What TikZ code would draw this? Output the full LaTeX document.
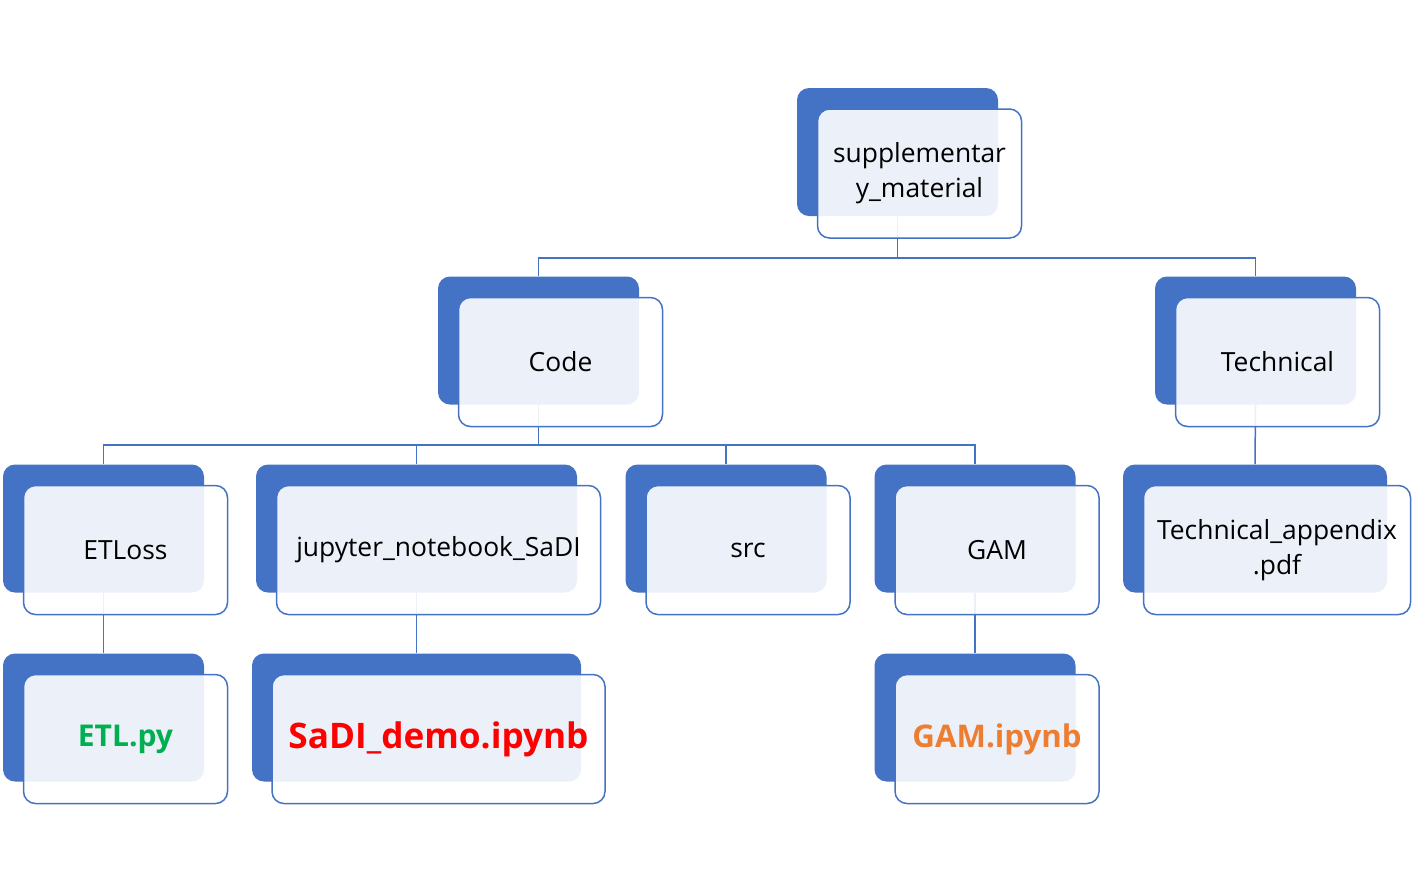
\documentclass[tikz,border=0pt]{standalone}
\usepackage{fontspec}
\setmainfont{Open Sans}
\usepackage{xcolor}
\usetikzlibrary{calc, positioning}

\definecolor{xanh}{HTML}{4472C4}
\definecolor{xanhla}{HTML}{00B050}
\definecolor{cam}{HTML}{ED7D31}

\begin{document}
\begin{tikzpicture}[x=0.5pt, y=-0.5pt,
    nen/.style={fill=xanh, rounded corners=6pt, inner sep=0pt,
        minimum width=100.5pt, minimum height=64pt},
    mat/.style={draw=xanh, line width=0.75pt, fill=white, fill opacity=0.9,
        text opacity=1, rounded corners=6pt, inner sep=0pt, align=center,
        minimum width=102pt, minimum height=64.5pt,
        font=\fontsize{13.2}{17.5}\selectfont},
    noi/.style={draw=xanh, line width=0.75pt}]

    \useasboundingbox (0,0) rectangle (1416,891);

    % =================================================================
    % 1. CAC KHOI NEN MAU XANH
    % =================================================================
    \node[nen] (goc) at (897.5,152) {};

    \node[nen] (code) at (538.5,340.5) {};
    \node[nen] (tech) at (1255.5,340.5) {};

    \node[nen] (etloss) at (103.5,528.5) {};
    \node[nen, minimum width=160.5pt] (jupyter) at (416.5,528.5) {};
    \node[nen] (src) at (726,528.5) {};
    \node[nen] (gam) at (975,528.5) {};
    \node[nen, minimum width=132pt] (techapp) at (1255,528.5) {};

    \node[nen] (etlpy) at (103.5,717.5) {};
    \node[nen, minimum width=164.5pt] (sadi) at (416.5,717.5) {};
    \node[nen] (gamnb) at (975,717.5) {};

    % =================================================================
    % 2. CAC DUONG NOI
    % =================================================================
    \coordinate (bus1) at (0,258);
    \coordinate (bus2) at (0,445);

    \draw[noi] (goc.south) -- (goc.south |- bus1) -| (code.north);
    \draw[noi] (goc.south |- bus1) -| (tech.north);

    \draw[noi] (code.south) -- (code.south |- bus2);
    \foreach \con in {etloss, jupyter, src, gam}
        \draw[noi] (code.south |- bus2) -| (\con.north);
    \draw[noi] (tech.south) -- (techapp.north);

    \draw[noi] (etloss.south) -- (etlpy.north);
    \draw[noi] (jupyter.south) -- (sadi.north);
    \draw[noi] (gam.south) -- (gamnb.north);

    % =================================================================
    % 3. CAC KHUNG CHU PHIA TRUOC
    % =================================================================
    \node[mat] (goc-m) at ([shift={(22,21.5)}]goc.center) {supplementar\\y\_material};

    \node[mat] (code-m) at ([shift={(22,21.5)}]code.center) {Code};
    \node[mat] (tech-m) at ([shift={(22,21.5)}]tech.center) {Technical};

    \node[mat] (etloss-m) at ([shift={(22,21.5)}]etloss.center) {ETLoss};
    \node[mat, minimum width=162pt] (jupyter-m) at ([shift={(22,21.5)}]jupyter.center) {jupyter\_notebook\_SaDI};
    \node[mat] (src-m) at ([shift={(22,21.5)}]src.center) {src};
    \node[mat] (gam-m) at ([shift={(22,21.5)}]gam.center) {GAM};
    \node[mat, minimum width=133.5pt] (techapp-m) at ([shift={(22,21.5)}]techapp.center) {Technical\_appendix\\.pdf};

    % ten cac tep, chu dam co mau
    \node[mat, text=xanhla, font=\bfseries\fontsize{15}{18}\selectfont] (etlpy-m) at ([shift={(22,21.5)}]etlpy.center) {ETL.py};
    \node[mat, minimum width=166.5pt, text=red, font=\bfseries\fontsize{17.6}{21}\selectfont] (sadi-m) at ([shift={(22,21.5)}]sadi.center) {SaDI\_demo.ipynb};
    \node[mat, text=cam, font=\bfseries\fontsize{15.6}{19}\selectfont] (gamnb-m) at ([shift={(22,21.5)}]gamnb.center) {GAM.ipynb};

\end{tikzpicture}
\end{document}
